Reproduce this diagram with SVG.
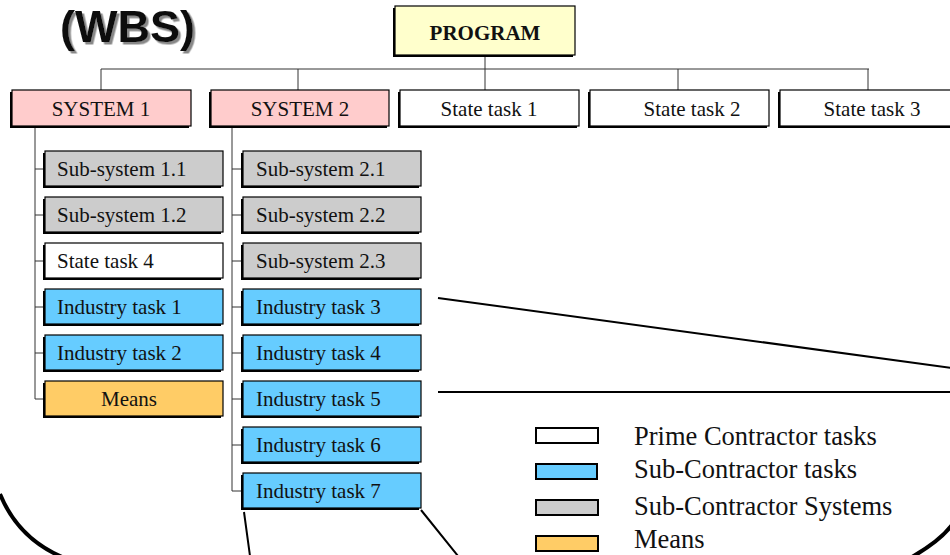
<svg xmlns="http://www.w3.org/2000/svg" width="950" height="555" viewBox="0 0 950 555">
<defs>
<filter id="ts" x="-10%" y="-10%" width="130%" height="130%"><feDropShadow dx="2.5" dy="2.5" stdDeviation="0.6" flood-color="#888" flood-opacity="1"/></filter>
</defs>
<style>
.sh{fill:#000}
.bx{stroke:#000;stroke-width:1.2}
.pink{fill:#FFCCCC}.yel{fill:#FFFFCC}.wht{fill:#FFFFFF}.gry{fill:#CCCCCC}.blu{fill:#66CCFF}.org{fill:#FFCC66}
.t{font-family:"Liberation Serif","Times New Roman",serif;font-size:21px;fill:#111}
.c{text-anchor:middle}
.conn{stroke:#333;stroke-width:1;fill:none}
.call{stroke:#000;stroke-width:2;fill:none}
.lg{stroke:#000;stroke-width:2}
.lt{font-family:"Liberation Serif","Times New Roman",serif;font-size:26.5px;fill:#111}
</style>
<rect width="950" height="555" fill="#fff"/>
<g id="title">
<text x="60" y="42" font-family="Liberation Sans,Arial,sans-serif" font-weight="bold" font-size="45" fill="#111" filter="url(#ts)">(WBS)</text>
</g>
<g id="connectors">
<path class="conn" d="M485,57V69M101,69H869M101,69V90M298,69V90M485,69V90M678,69V90M868,69V90"/>
<path class="conn" d="M35,128V399M35,169H43M35,215H43M35,261H43M35,307H43M35,353H43M35,399H43"/>
<path class="conn" d="M232,128V491M232,169H241M232,215H241M232,261H241M232,307H241M232,353H241M232,399H241M232,445H241M232,491H241"/>
</g>
<g id="callout">
<path class="call" d="M438,298L952,368M438,392H952M244,512L250,556M421,510L458,556"/>
<path d="M0,494Q18,538 62,557" fill="none" stroke="#000" stroke-width="4"/>
<path d="M912,557Q940,541 952,525" fill="none" stroke="#000" stroke-width="4"/>
</g>
<g id="program"><rect class="sh" x="393" y="8" width="180" height="49"/><rect class="bx yel" x="395" y="6" width="180" height="49"/><text class="t c" x="485" y="40" font-weight="bold">PROGRAM</text></g>
<g id="system1"><rect class="sh" x="10" y="92" width="179" height="36"/><rect class="bx pink" x="12" y="90" width="179" height="36"/><text class="t c" x="101" y="116">SYSTEM 1</text></g>
<g id="system2"><rect class="sh" x="209" y="92" width="178" height="36"/><rect class="bx pink" x="211" y="90" width="178" height="36"/><text class="t c" x="300" y="116">SYSTEM 2</text></g>
<g id="state1"><rect class="sh" x="398" y="92" width="179" height="36"/><rect class="bx wht" x="400" y="90" width="179" height="36"/><text class="t c" x="489" y="116">State task 1</text></g>
<g id="state2"><rect class="sh" x="588" y="92" width="179" height="36"/><rect class="bx wht" x="590" y="90" width="179" height="36"/><text class="t c" x="692" y="116">State task 2</text></g>
<g id="state3"><rect class="sh" x="778" y="92" width="180" height="36"/><rect class="bx wht" x="780" y="90" width="180" height="36"/><text class="t c" x="872" y="116">State task 3</text></g>

<g id="sub11"><rect class="sh" x="43" y="153" width="178" height="35"/><rect class="bx gry" x="45" y="151" width="178" height="35"/><text class="t" x="57" y="176">Sub-system 1.1</text></g>
<g id="sub12"><rect class="sh" x="43" y="199" width="178" height="35"/><rect class="bx gry" x="45" y="197" width="178" height="35"/><text class="t" x="57" y="222">Sub-system 1.2</text></g>
<g id="state4"><rect class="sh" x="43" y="245" width="178" height="35"/><rect class="bx wht" x="45" y="243" width="178" height="35"/><text class="t" x="57" y="268">State task 4</text></g>
<g id="ind1"><rect class="sh" x="43" y="291" width="178" height="35"/><rect class="bx blu" x="45" y="289" width="178" height="35"/><text class="t" x="57" y="314">Industry task 1</text></g>
<g id="ind2"><rect class="sh" x="43" y="337" width="178" height="35"/><rect class="bx blu" x="45" y="335" width="178" height="35"/><text class="t" x="57" y="360">Industry task 2</text></g>
<g id="means"><rect class="sh" x="43" y="383" width="178" height="35"/><rect class="bx org" x="45" y="381" width="178" height="35"/><text class="t c" x="129" y="406">Means</text></g>

<g id="sub21"><rect class="sh" x="241" y="153" width="178" height="35"/><rect class="bx gry" x="243" y="151" width="178" height="35"/><text class="t" x="256" y="176">Sub-system 2.1</text></g>
<g id="sub22"><rect class="sh" x="241" y="199" width="178" height="35"/><rect class="bx gry" x="243" y="197" width="178" height="35"/><text class="t" x="256" y="222">Sub-system 2.2</text></g>
<g id="sub23"><rect class="sh" x="241" y="245" width="178" height="35"/><rect class="bx gry" x="243" y="243" width="178" height="35"/><text class="t" x="256" y="268">Sub-system 2.3</text></g>
<g id="ind3"><rect class="sh" x="241" y="291" width="178" height="35"/><rect class="bx blu" x="243" y="289" width="178" height="35"/><text class="t" x="256" y="314">Industry task 3</text></g>
<g id="ind4"><rect class="sh" x="241" y="337" width="178" height="35"/><rect class="bx blu" x="243" y="335" width="178" height="35"/><text class="t" x="256" y="360">Industry task 4</text></g>
<g id="ind5"><rect class="sh" x="241" y="383" width="178" height="35"/><rect class="bx blu" x="243" y="381" width="178" height="35"/><text class="t" x="256" y="406">Industry task 5</text></g>
<g id="ind6"><rect class="sh" x="241" y="429" width="178" height="35"/><rect class="bx blu" x="243" y="427" width="178" height="35"/><text class="t" x="256" y="452">Industry task 6</text></g>
<g id="ind7"><rect class="sh" x="241" y="475" width="178" height="35"/><rect class="bx blu" x="243" y="473" width="178" height="35"/><text class="t" x="256" y="498">Industry task 7</text></g>

<g id="legend">
<rect class="lg wht" x="536" y="428" width="62" height="15"/>
<rect class="lg blu" x="536" y="464" width="61" height="15"/>
<rect class="lg gry" x="536" y="500" width="62" height="15"/>
<rect class="lg org" x="536" y="536" width="62" height="15"/>
<text class="lt" x="634" y="445">Prime Contractor tasks</text>
<text class="lt" x="634" y="478">Sub-Contractor tasks</text>
<text class="lt" x="634" y="515">Sub-Contractor Systems</text>
<text class="lt" x="634" y="548">Means</text>
</g>
</svg>
